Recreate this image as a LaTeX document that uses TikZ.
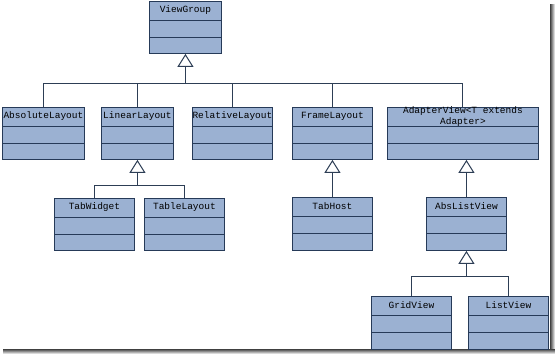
\documentclass[tikz,border=0pt]{standalone}
\usepackage{fontspec}
\setmonofont{Liberation Mono}
\usetikzlibrary{arrows.meta}
\definecolor{boxfill}{RGB}{155,177,210}
\definecolor{boxline}{RGB}{38,58,88}
\definecolor{connline}{RGB}{45,62,85}
\tikzset{
  clsbox/.style={draw=boxline, fill=boxfill, line width=0.9pt, inner sep=0pt, anchor=north west},
  clstitle/.style={font=\ttfamily\fontsize{9.5}{11.5}\selectfont, text=black, inner sep=0pt, align=center},
  sepline/.style={draw=boxline, line width=0.9pt},
  conn/.style={draw=connline, line width=1pt},
  gen/.style={conn, -{Triangle[open, length=13pt, width=16pt, line width=1pt]}}
}
% name, x1, y1, x2, y2, text
\newcommand{\umlclass}[6]{%
  \node[clsbox, minimum width={(#4-#2)*1pt}, minimum height={(#5-#3)*1pt}] (#1) at (#2,#3) {};
  \draw[sepline] ([yshift=-19pt]#1.north west) -- ([yshift=-19pt]#1.north east);
  \draw[sepline] ([yshift=-36pt]#1.north west) -- ([yshift=-36pt]#1.north east);
  \node[clstitle] (#1-t) at ([yshift=-9.5pt]#1.north) {#6};
}
\begin{document}
\begin{tikzpicture}[x=1pt, y=-1pt]
\useasboundingbox (0,0) rectangle (555,354);
% shadow of the screenshot frame
\shade[left color=black!75, right color=white] (550,4) rectangle (555,354);
\shade[top color=black!75, bottom color=white] (3,349) rectangle (555,354);
\fill[white] (0,0) rectangle (550,349);

\umlclass{vg}{149}{1}{221}{53}{ViewGroup}
\umlclass{abs}{2}{107}{84}{159}{AbsoluteLayout}
\umlclass{lin}{101}{107}{173}{159}{LinearLayout}
\umlclass{rel}{192}{107}{272}{159}{RelativeLayout}
\umlclass{frm}{292}{107}{372}{159}{FrameLayout}
\umlclass{adp}{387}{107}{538}{159}{AdapterView<T extends\\Adapter>}
\umlclass{tw}{54}{198}{134}{250}{TabWidget}
\umlclass{tl}{144}{198}{224}{250}{TableLayout}
\umlclass{th}{292}{197}{372}{250}{TabHost}
\umlclass{alv}{426}{197}{506}{250}{AbsListView}
\umlclass{gv}{371}{296}{451}{349}{GridView}
\umlclass{lv}{468}{296}{548}{349}{ListView}

% ViewGroup hierarchy
\coordinate (bus1) at (vg.south |- 0,83);
\draw[gen] (bus1) -- (vg.south);
\draw[conn] (abs.north) |- (bus1);
\draw[conn] (lin.north) |- (bus1);
\draw[conn] (rel.north) |- (bus1);
\draw[conn] (frm.north) |- (bus1);
\draw[conn] (adp.north) |- (bus1);

% LinearLayout hierarchy
\coordinate (bus2) at (lin.south |- 0,185);
\draw[gen] (bus2) -- (lin.south);
\draw[conn] (tw.north) |- (bus2);
\draw[conn] (tl.north) |- (bus2);

% FrameLayout -> TabHost
\draw[gen] (th.north) -- (frm.south);

% AdapterView -> AbsListView
\draw[gen] (alv.north) -- (alv.north |- adp.south);

% AbsListView hierarchy
\coordinate (bus3) at (alv.south |- 0,276);
\draw[gen] (bus3) -- (alv.south);
\draw[conn] (gv.north) |- (bus3);
\draw[conn] (lv.north) |- (bus3);
\end{tikzpicture}
\end{document}
